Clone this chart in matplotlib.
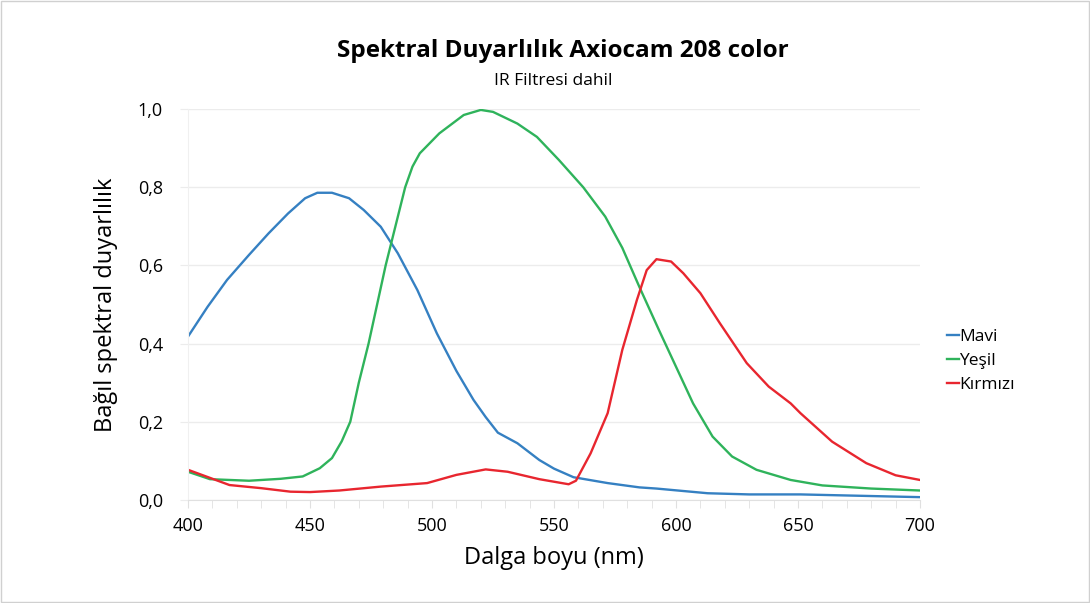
import matplotlib.pyplot as plt
from matplotlib.ticker import MultipleLocator, FuncFormatter

plt.rcParams['font.family'] = ['Open Sans', 'DejaVu Sans']

# values (wavelength nm, relative response)
wl_mavi = [400, 408, 416, 425, 433, 441, 448, 453, 459, 466, 472, 479, 486, 494, 502, 510,
           517, 522, 527, 535, 544, 550, 558, 572, 585, 592, 613, 630, 651, 700]
mavi = [0.418, 0.494, 0.563, 0.627, 0.682, 0.733, 0.772, 0.786, 0.786, 0.772, 0.742, 0.699,
        0.631, 0.537, 0.426, 0.33, 0.256, 0.212, 0.172, 0.145, 0.102, 0.08, 0.058, 0.043,
        0.032, 0.029, 0.017, 0.014, 0.014, 0.007]

wl_yesil = [400, 409, 425, 438, 447, 454, 459, 463, 466.5, 470, 474, 477.5, 481, 485, 489,
            492, 495, 503, 513, 520, 525, 535, 543, 552, 562, 571, 578, 585, 593, 600, 607,
            615, 623, 633, 647, 660, 680, 700]
yesil = [0.072, 0.053, 0.049, 0.054, 0.06, 0.081, 0.107, 0.15, 0.2, 0.3, 0.4, 0.5, 0.6, 0.7,
         0.8, 0.853, 0.887, 0.938, 0.985, 0.998, 0.993, 0.963, 0.929, 0.87, 0.80, 0.725,
         0.645, 0.545, 0.435, 0.341, 0.247, 0.162, 0.111, 0.077, 0.051, 0.037, 0.029, 0.024]

wl_kirmizi = [400, 417, 430, 442, 450, 462, 479, 498, 510, 522, 531, 544, 556, 559, 565, 572,
              578, 584, 588, 592, 598, 603, 610, 618, 629, 638, 647, 651, 664, 678, 690, 700]
kirmizi = [0.077, 0.038, 0.03, 0.021, 0.02, 0.024, 0.034, 0.043, 0.064, 0.078, 0.072, 0.053,
           0.040, 0.049, 0.119, 0.222, 0.384, 0.512, 0.588, 0.616, 0.61, 0.58, 0.529, 0.452,
           0.35, 0.29, 0.247, 0.222, 0.149, 0.094, 0.063, 0.051]

fig = plt.figure(figsize=(10.9, 6.03), dpi=100)
fig.patches.append(plt.Rectangle((0.001, 0.001), 0.998, 0.998, transform=fig.transFigure,
                                 fill=False, edgecolor='#d0d0d0', linewidth=1))
ax = fig.add_axes([0.1725, 0.171, 0.6715, 0.648])

ax.plot(wl_mavi, mavi, color='#3580c2', linewidth=1.7, label='Mavi')
ax.plot(wl_yesil, yesil, color='#2fb35b', linewidth=1.7, label='Yeşil')
ax.plot(wl_kirmizi, kirmizi, color='#e8262f', linewidth=1.7, label='Kırmızı')

ax.set_xlim(400, 700)
ax.set_ylim(0, 1.0)
ax.xaxis.set_major_locator(MultipleLocator(50))
ax.xaxis.set_minor_locator(MultipleLocator(10))
ax.yaxis.set_major_locator(MultipleLocator(0.2))
ax.yaxis.set_major_formatter(FuncFormatter(lambda v, p: f'{v:.1f}'.replace('.', ',')))

ax.grid(axis='y', color='#ececec', linewidth=1)
for s in ['top', 'right']:
    ax.spines[s].set_visible(False)
ax.spines['left'].set_color('#f0f0f0')
ax.spines['bottom'].set_color('#e0e0e0')
ax.tick_params(axis='y', length=6, color='#ececec', labelsize=13, pad=12)
ax.tick_params(axis='x', which='both', length=6, color='#e0e0e0', labelsize=13, pad=6)

ax.set_xlabel('Dalga boyu (nm)', fontsize=17, labelpad=8)
ax.set_ylabel('Bağıl spektral duyarlılık', fontsize=17, labelpad=14)

fig.text(0.516, 0.915, 'Spektral Duyarlılık Axiocam 208 color', ha='center', va='center',
         fontsize=17.5, fontweight='bold')
fig.text(0.508, 0.866, 'IR Filtresi dahil', ha='center', va='center', fontsize=12.5)

ax.legend(loc='center left', bbox_to_anchor=(1.016, 0.355), frameon=False, fontsize=12.5,
          handlelength=0.7, handletextpad=0.0, labelspacing=0.45)

fig.savefig('out.png', dpi=100)
